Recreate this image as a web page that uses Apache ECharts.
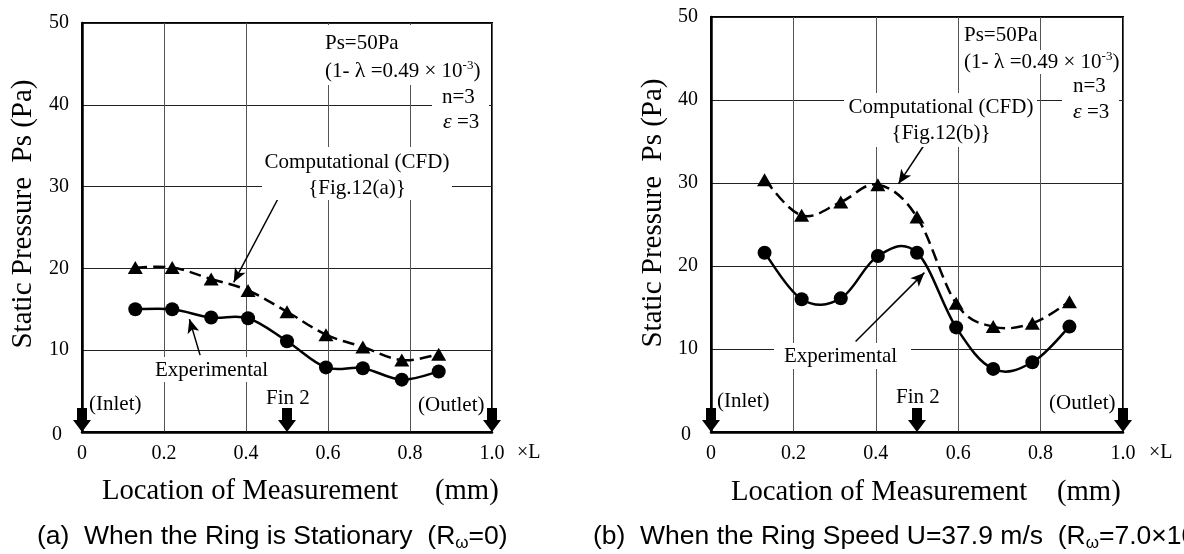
<!DOCTYPE html>
<html>
<head>
<meta charset="utf-8">
<script src="https://cdn.jsdelivr.net/npm/echarts/dist/echarts.min.js"></script>
<style>
  html, body { margin: 0; padding: 0; background: #fff; }
  #main { width: 1184px; height: 554px; }
</style>
</head>
<body>
<div id="main"></div>
<script>
// measurement positions (x L)
var xPos = [0.13, 0.22, 0.315, 0.405, 0.5, 0.595, 0.685, 0.78, 0.87];
// (a) ring stationary
var expA = [15.0, 15.0, 14.0, 13.9, 11.1, 7.9, 7.8, 6.4, 7.4];
var cfdA = [20.1, 20.1, 18.7, 17.3, 14.7, 11.9, 10.4, 8.8, 9.5];
// (b) ring speed 37.9 m/s
var expB = [21.6, 16.0, 16.1, 21.2, 21.6, 12.6, 7.6, 8.4, 12.7];
var cfdB = [30.4, 26.1, 27.7, 29.8, 25.9, 15.5, 12.7, 13.1, 15.7];
// inlet / fin 2 / outlet marks
var finPos = [0, 0.5, 1.0];
// annotation arrows [from, to] in data units
var arrowCfdA = [[0.48, 28.7], [0.37, 18.3]];
var arrowExpA = [[0.288, 9.4], [0.262, 13.8]];
var arrowCfdB = [[0.515, 34.4], [0.455, 29.9]];
var arrowExpB = [[0.351, 10.9], [0.518, 19.2]];

var serif = "'Liberation Serif', 'Times New Roman', serif";
var sans = "'Liberation Sans', Arial, sans-serif";

var myChart = echarts.init(document.getElementById('main'));

function pairs(xs, ys) {
    return xs.map(function (x, i) { return [x, ys[i]]; });
}

function arrowLine(a) {
    return [{ coord: a[0] }, { coord: a[1] }];
}

var downArrow = 'path://M4,0 L14,0 L14,12 L18,12 L9,24 L0,12 L4,12 Z';

function xAxisOf(idx) {
    return {
        type: 'value', gridIndex: idx, min: 0, max: 1, interval: 0.2,
        axisLine: { show: true, onZero: false, lineStyle: { color: '#000', width: 2.5 } },
        axisTick: { show: false },
        axisLabel: {
            margin: 12, color: '#000', fontFamily: serif, fontSize: 20,
            formatter: function (v) { return v === 0 ? '0' : v.toFixed(1); }
        },
        splitLine: { show: true, lineStyle: { color: '#555', width: 1 } }
    };
}

function yAxisOf(idx) {
    return {
        type: 'value', gridIndex: idx, min: 0, max: 50, interval: 10,
        axisLine: { show: true, lineStyle: { color: '#000', width: 2.5 } },
        axisTick: { show: false },
        axisLabel: {
            margin: 13, color: '#000', fontFamily: serif, fontSize: 20,
            formatter: function (v) { return v === 0 ? '{z|0}' : String(v); },
            rich: { z: { fontFamily: serif, fontSize: 20, color: '#000', padding: [6, 7, 0, 0] } }
        },
        splitLine: { show: true, lineStyle: { color: '#222', width: 1 } }
    };
}

// smooth curve through the points (spline like the original spreadsheet plot)
function curveSeries(idx, data, dash) {
    var k = 0.18;
    return {
        type: 'custom', xAxisIndex: idx, yAxisIndex: idx, data: data, z: 2, silent: true,
        renderItem: function (params, api) {
            if (params.dataIndexInside !== 0) return null;
            var n = params.dataInsideLength;
            var pts = [];
            for (var i = 0; i < n; i++) {
                pts.push(api.coord([api.value(0, i), api.value(1, i)]));
            }
            var children = [];
            for (var j = 0; j < n - 1; j++) {
                var p0 = pts[Math.max(j - 1, 0)], p1 = pts[j], p2 = pts[j + 1], p3 = pts[Math.min(j + 2, n - 1)];
                children.push({
                    type: 'bezierCurve',
                    shape: {
                        x1: p1[0], y1: p1[1], x2: p2[0], y2: p2[1],
                        cpx1: p1[0] + (p2[0] - p0[0]) * k, cpy1: p1[1] + (p2[1] - p0[1]) * k,
                        cpx2: p2[0] - (p3[0] - p1[0]) * k, cpy2: p2[1] - (p3[1] - p1[1]) * k
                    },
                    style: { stroke: '#000', fill: 'none', lineWidth: 2.5, lineDash: dash }
                });
            }
            return { type: 'group', children: children };
        }
    };
}

function expSeries(idx, data, arrow) {
    return {
        type: 'line', xAxisIndex: idx, yAxisIndex: idx, data: data,
        symbol: 'circle', symbolSize: 14, z: 3,
        itemStyle: { color: '#000' },
        lineStyle: { opacity: 0 },
        markLine: {
            silent: true, symbol: ['none', 'arrow'], symbolSize: [9, 14],
            label: { show: false },
            lineStyle: { color: '#000', width: 1.5, type: 'solid', opacity: 1 },
            data: [arrowLine(arrow)]
        },
        markPoint: {
            silent: true, symbol: downArrow, symbolSize: [18, 24], symbolOffset: [0, '-50%'],
            itemStyle: { color: '#000' }, label: { show: false },
            data: finPos.map(function (p) { return { coord: [p, 0] }; })
        }
    };
}

function cfdSeries(idx, data, arrow) {
    return {
        type: 'line', xAxisIndex: idx, yAxisIndex: idx, data: data,
        symbol: 'triangle', symbolSize: [15, 13], z: 3,
        itemStyle: { color: '#000' },
        lineStyle: { opacity: 0 },
        markLine: {
            silent: true, symbol: ['none', 'arrow'], symbolSize: [9, 14],
            label: { show: false },
            lineStyle: { color: '#000', width: 1.5, type: 'solid', opacity: 1 },
            data: [arrowLine(arrow)]
        }
    };
}

function box(x, y, w, h) {
    return { type: 'rect', silent: true, z: 55, shape: { x: x, y: y, width: w, height: h }, style: { fill: '#fff' } };
}

function txt(x, y, s, size, align, extra) {
    var st = {
        text: s, font: size + 'px ' + serif, fill: '#000',
        textAlign: align || 'left', verticalAlign: 'middle'
    };
    if (extra) { for (var k in extra) st[k] = extra[k]; }
    return { type: 'text', silent: true, z: 60, x: x, y: y, style: st };
}

var lamRich = {
    m: { fontFamily: serif, fontSize: 21, color: '#000', lineHeight: 24 },
    l: { fontFamily: serif, fontSize: 22, color: '#000', lineHeight: 24 },
    sup: { fontFamily: serif, fontSize: 13, color: '#000', lineHeight: 24, verticalAlign: 'top' }
};
var lamText = '{m|(1- }{l|λ}{m| =0.49 × 10}{sup|-3}{m|)}';
var epsRich = {
    m: { fontFamily: serif, fontSize: 21, color: '#000' },
    e: { fontFamily: serif, fontSize: 22, fontStyle: 'italic', color: '#000' }
};

var capRich = {
    m: { fontFamily: sans, fontSize: 26.5, color: '#000', lineHeight: 30 },
    s: { fontFamily: sans, fontSize: 17, color: '#000', lineHeight: 30, verticalAlign: 'bottom' }
};

var graphics = [
    // (a) white label boxes
    box(318, 25, 172, 60), box(432, 86, 57, 46), box(262, 147, 190, 53),
    box(153, 357, 119, 25), box(88, 392, 56, 22), box(265, 389, 46, 18), box(417, 394, 69, 21),
    // (b) white label boxes
    box(962, 24, 77, 23), box(962, 50, 159, 24), box(1062, 74, 57, 50), box(844, 93, 193, 54),
    box(774, 343, 137, 26), box(716, 389, 56, 23), box(894, 385, 46, 23), box(1048, 391, 69, 23),

    // (a) texts
    txt(325, 43, 'Ps=50Pa', 21),
    txt(325, 71, lamText, 21, 'left', { rich: lamRich }),
    txt(442, 97, 'n=3', 21),
    txt(443, 122, '{e|ε}{m| =3}', 21, 'left', { rich: epsRich }),
    txt(357, 162, 'Computational (CFD)', 21, 'center'),
    txt(357, 188, '{Fig.12(a)}', 21, 'center'),
    txt(155, 370, 'Experimental', 21),
    txt(89, 404, '(Inlet)', 21),
    txt(266, 398, 'Fin 2', 21),
    txt(418, 405, '(Outlet)', 21),
    txt(517, 453, '×L', 20),
    txt(102, 491, 'Location of Measurement', 28.7),
    txt(435, 491, '(mm)', 28.7),
    { type: 'text', silent: true, z: 60, x: 23, y: 214, rotation: Math.PI / 2,
      style: { text: 'Static Pressure  Ps (Pa)', font: '29px ' + serif, fill: '#000', textAlign: 'center', verticalAlign: 'middle' } },
    txt(37, 537, '{m|(a)  When the Ring is Stationary  (R}{s|ω}{m|=0)}', 26.5, 'left', { rich: capRich }),

    // (b) texts
    txt(964, 35, 'Ps=50Pa', 21),
    txt(964, 62, lamText, 21, 'left', { rich: lamRich }),
    txt(1073, 86, 'n=3', 21),
    txt(1073, 112, '{e|ε}{m| =3}', 21, 'left', { rich: epsRich }),
    txt(941, 107, 'Computational (CFD)', 21, 'center'),
    txt(941, 133, '{Fig.12(b)}', 21, 'center'),
    txt(784, 356, 'Experimental', 21),
    txt(717, 401, '(Inlet)', 21),
    txt(896, 397, 'Fin 2', 21),
    txt(1049, 403, '(Outlet)', 21),
    txt(1149, 453, '×L', 20),
    txt(731, 492, 'Location of Measurement', 28.7),
    txt(1057, 492, '(mm)', 28.7),
    { type: 'text', silent: true, z: 60, x: 653, y: 213, rotation: Math.PI / 2,
      style: { text: 'Static Pressure  Ps (Pa)', font: '29px ' + serif, fill: '#000', textAlign: 'center', verticalAlign: 'middle' } },
    txt(593, 537, '{m|(b)  When the Ring Speed U=37.9 m/s  (R}{s|ω}{m|=7.0×10}', 26.5, 'left', { rich: capRich })
];

var option = {
    backgroundColor: '#fff',
    animation: false,
    grid: [
        { left: 82, top: 23, width: 410, height: 409, show: true, borderColor: '#000', borderWidth: 2, backgroundColor: 'transparent' },
        { left: 711, top: 17, width: 412, height: 415, show: true, borderColor: '#000', borderWidth: 2, backgroundColor: 'transparent' }
    ],
    xAxis: [xAxisOf(0), xAxisOf(1)],
    yAxis: [yAxisOf(0), yAxisOf(1)],
    series: [
        curveSeries(0, pairs(xPos, expA), null),
        curveSeries(0, pairs(xPos, cfdA), [12, 6]),
        curveSeries(1, pairs(xPos, expB), null),
        curveSeries(1, pairs(xPos, cfdB), [12, 6]),
        expSeries(0, pairs(xPos, expA), arrowExpA),
        cfdSeries(0, pairs(xPos, cfdA), arrowCfdA),
        expSeries(1, pairs(xPos, expB), arrowExpB),
        cfdSeries(1, pairs(xPos, cfdB), arrowCfdB)
    ],
    graphic: graphics
};

myChart.setOption(option);
</script>
</body>
</html>
